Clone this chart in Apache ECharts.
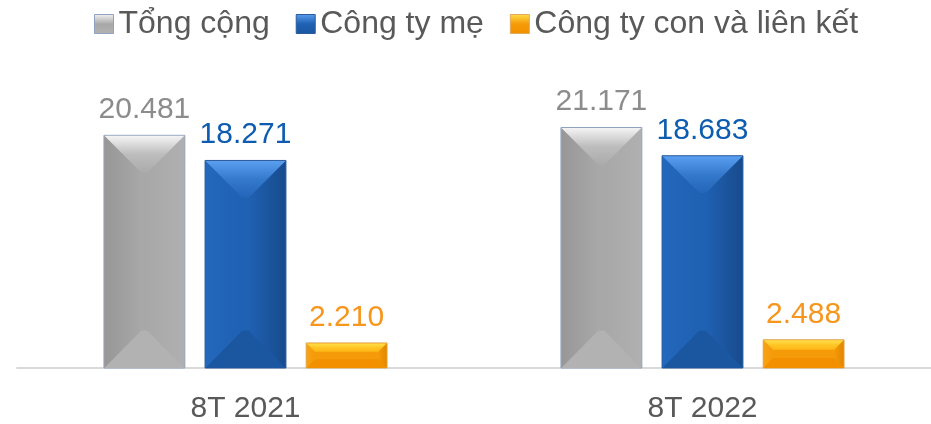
<!DOCTYPE html>
<html>
<head>
<meta charset="utf-8">
<script src="https://cdn.jsdelivr.net/npm/echarts@6/dist/echarts.min.js"></script>
<style>
  html, body { margin: 0; padding: 0; background: #fff; }
  #chart { width: 931px; height: 424px; }
</style>
</head>
<body>
<div id="chart"></div>
<script>
// data
const categories = ["8T 2021", "8T 2022"];
const seriesNames = ["Tổng cộng", "Công ty mẹ", "Công ty con và liên kết"];
const tongCong = [20.481, 21.171];
const congTyMe = [18.271, 18.683];
const congTyCon = [2.21, 2.488];

// bevel palettes
const palettes = [
  { body: "#a8a8a8", left: "#979797", right: "#b0b0b0", topA: "#f4f4f4", topM: "#bdbdbd", topB: "#ababab", bottom: "#b2b2b2", border: "#8fa2bf", label: "#8c8c8c" },
  { body: "#1f61b3", left: "#2468bb", right: "#184b8c", topA: "#5a9ef0", topM: "#3479cc", topB: "#2465b8", bottom: "#1b56a0", border: "#2a5c9c", label: "#0e5cb0" },
  { body: "#f59a08", left: "#f7a216", right: "#e38700", topA: "#ffdf4a", topM: "#ffc626", topB: "#ffb816", bottom: "#f29000", border: "#e0aa5c", label: "#f7961c" }
];

const barRatio = 0.177;
const gapRatio = 0.25;

function fmt(v) {
  return v.toFixed(3);
}

function makeRender(si) {
  const p = palettes[si];
  return function (params, api) {
    const idx = api.value(0);
    const val = api.value(1);
    const base = api.coord([idx, 0]);
    const top = api.coord([idx, val]);
    const catW = api.size([1, 0])[0];
    const w = catW * barRatio;
    const gap = w * gapRatio;
    const groupW = 3 * w + 2 * gap;
    const x = base[0] - groupW / 2 + si * (w + gap);
    const y = top[1];
    const h = base[1] - top[1];
    const d = Math.min(w * 0.46, h * 0.35);
    const lin = (x1, y1, x2, y2, stops) => ({
      type: "linear", x: x1, y: y1, x2: x2, y2: y2,
      colorStops: stops.map((c, k) => ({ offset: k / (stops.length - 1), color: c }))
    });
    return {
      type: "group",
      children: [
        {
          type: "rect",
          shape: { x: x, y: y, width: w, height: h },
          style: { fill: p.body, stroke: p.border, lineWidth: 1 },
          textContent: {
            style: {
              text: fmt(val),
              fill: p.label,
              font: "30px 'Liberation Sans', Arial, sans-serif"
            }
          },
          textConfig: { position: "top", distance: 10 }
        },
        {
          type: "polygon",
          shape: { points: [[x + 0.5, y], [x + d, y + d], [x + d, y + h - d], [x + 0.5, y + h]] },
          style: { fill: lin(0, 0, 1, 0, [p.left, p.body]) },
          silent: true
        },
        {
          type: "polygon",
          shape: { points: [[x + w - 0.5, y], [x + w - d, y + d], [x + w - d, y + h - d], [x + w - 0.5, y + h]] },
          style: { fill: lin(1, 0, 0, 0, [p.right, p.body]) },
          silent: true
        },
        {
          type: "polygon",
          shape: { points: [[x + 0.5, y + 0.5], [x + w - 0.5, y + 0.5], [x + w - d, y + d], [x + d, y + d]] },
          style: { fill: lin(0, 0, 0, 1, [p.topA, p.topM, p.topB]) },
          silent: true
        },
        {
          type: "polygon",
          shape: { points: [[x + 0.5, y + h], [x + w - 0.5, y + h], [x + w - d, y + h - d], [x + d, y + h - d]] },
          style: { fill: p.bottom },
          silent: true
        }
      ]
    };
  };
}

const chart = echarts.init(document.getElementById("chart"));
const values = [tongCong, congTyMe, congTyCon];

chart.setOption({
  animation: false,
  textStyle: { fontFamily: "'Liberation Sans', Arial, sans-serif" },
  legend: {
    left: 89,
    top: 3,
    itemWidth: 19,
    itemHeight: 19,
    itemGap: 26,
    textStyle: { fontSize: 32, color: "#595959" },
    data: seriesNames.map((n, i) => ({
      name: n,
      icon: "rect",
      itemStyle: {
        color: {
          type: "linear", x: 0, y: 0, x2: 0, y2: 1,
          colorStops: [
            { offset: 0, color: palettes[i].topA },
            { offset: 0.5, color: palettes[i].body },
            { offset: 1, color: palettes[i].bottom }
          ]
        },
        borderColor: palettes[i].border,
        borderWidth: 1
      }
    }))
  },
  grid: { left: 17, right: 0, top: 84, bottom: 56 },
  xAxis: {
    type: "category",
    data: categories,
    axisLine: { lineStyle: { color: "#d9d9d9", width: 2 } },
    axisTick: { show: false },
    axisLabel: { fontSize: 30, color: "#595959", margin: 26 }
  },
  yAxis: {
    type: "value",
    min: 0,
    max: 25,
    show: false,
    splitLine: { show: false }
  },
  series: seriesNames.map((n, i) => ({
    name: n,
    type: "custom",
    renderItem: makeRender(i),
    itemStyle: { color: palettes[i].body },
    encode: { x: 0, y: 1 },
    data: values[i].map((v, j) => [j, v])
  }))
});
</script>
</body>
</html>
